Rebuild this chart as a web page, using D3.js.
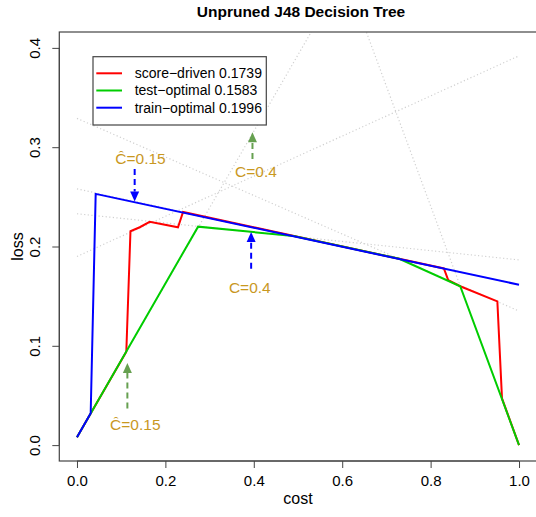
<!DOCTYPE html>
<html>
<head>
<meta charset="utf-8">
<script src="https://cdn.jsdelivr.net/npm/d3@7"></script>
<style>
  body { margin: 0; background: #fff; }
  svg { display: block; font-family: "Liberation Sans", Arial, sans-serif; }
</style>
</head>
<body>
<svg id="chart" width="536" height="517"></svg>
<script>
// ---- DATA ---- //
const xTicks = [0, 0.2, 0.4, 0.6, 0.8, 1.0];
const yTicks = [0, 0.1, 0.2, 0.3, 0.4];

const seriesNames = ["score-driven 0.1739", "test-optimal 0.1583", "train-optimal 0.1996"];
const seriesColors = ["#ff0000", "#00cd00", "#0000ff"];

const redX = [0, 0.1116, 0.121, 0.142, 0.1645, 0.2285, 0.240, 0.830, 0.840, 0.867, 0.951, 0.9615, 1.0];
const redY = [0.008, 0.094, 0.2154, 0.2194, 0.2248, 0.2194, 0.2348, 0.1779, 0.166, 0.160, 0.1447, 0.047, 0.0];
const greenX = [0, 0.274, 0.49, 0.729, 0.867, 1.0];
const greenY = [0.008, 0.220, 0.2105, 0.1877, 0.160, 0.0];
const blueX = [0, 0.031, 0.0423, 1.0];
const blueY = [0.008, 0.032, 0.253, 0.1615];

// cost lines: loss at cost 0 and at cost 1
const costLineStart = [0.008, 0.258, 0.329, 1.2045, 0.19, 0.233];
const costLineEnd = [0.778, 0.1615, 0.135, 0.0, 0.392, 0.1865];

// annotations
const annText = ["\u0108=0.15", "C=0.4", "C=0.4", "\u0108=0.15"];
const annX = [0.1437, 0.405, 0.391, 0.132];
const annY = [0.289, 0.2754, 0.159, 0.0211];
const arrowX = [0.1305, 0.397, 0.394, 0.114];
const arrowFrom = [0.278, 0.288, 0.1776, 0.0369];
const arrowTo = [0.2454, 0.315, 0.2147, 0.0827];
const arrowColors = ["#0000ff", "#66a050", "#0000ff", "#66a050"];

// ---- LAYOUT ---- //
const svg = d3.select("#chart");
const box = { L: 59.3, R: 536.7, T: 32, B: 461 };

const xScale = d3.scaleLinear().domain([-0.04, 1.04]).range([box.L, box.R]);
const yScale = d3.scaleLinear().domain([-0.016, 0.416]).range([box.B, box.T]);

svg.append("defs").append("clipPath")
    .attr("id", "plot-clip")
    .append("rect")
        .attr("x", box.L)
        .attr("y", box.T)
        .attr("width", box.R - box.L)
        .attr("height", box.B - box.T);

// ---- COST LINES ---- //
const plot = svg.append("g").attr("clip-path", "url(#plot-clip)");

plot.selectAll(".cost-line")
    .data(costLineStart.map((s, i) => [s, costLineEnd[i]]))
    .enter()
    .append("line")
        .attr("class", "cost-line")
        .attr("x1", xScale(0))
        .attr("x2", xScale(1))
        .attr("y1", d => yScale(d[0]))
        .attr("y2", d => yScale(d[1]))
        .attr("stroke", "#d0d0d0")
        .attr("stroke-width", 1.2)
        .attr("stroke-dasharray", "1.2,2.4");

// ---- CURVES ---- //
const line = d3.line()
    .x(d => xScale(d[0]))
    .y(d => yScale(d[1]));

const curves = [
    redX.map((x, i) => [x, redY[i]]),
    greenX.map((x, i) => [x, greenY[i]]),
    blueX.map((x, i) => [x, blueY[i]]),
];

curves.forEach((pts, i) => {
    plot.append("path")
        .attr("d", line(pts))
        .attr("fill", "none")
        .attr("stroke", seriesColors[i])
        .attr("stroke-width", 2)
        .attr("stroke-linejoin", "miter");
});

// ---- ARROWS ---- //
arrowX.forEach((ax, i) => {
    const x = xScale(ax);
    const y0 = yScale(arrowFrom[i]);
    const y1 = yScale(arrowTo[i]);
    const dir = y1 > y0 ? 1 : -1;
    const headLen = 10, headW = 4.5;
    plot.append("line")
        .attr("x1", x).attr("x2", x)
        .attr("y1", y0).attr("y2", y1 - dir * headLen)
        .attr("stroke", arrowColors[i])
        .attr("stroke-width", 2)
        .attr("stroke-dasharray", "6,4");
    plot.append("path")
        .attr("d", `M${x},${y1} L${x - headW},${y1 - dir * headLen} L${x + headW},${y1 - dir * headLen} Z`)
        .attr("fill", arrowColors[i]);
});

annText.forEach((t, i) => {
    svg.append("text")
        .attr("x", xScale(annX[i]))
        .attr("y", yScale(annY[i]))
        .attr("dy", "0.36em")
        .attr("text-anchor", "middle")
        .attr("font-size", 15.5)
        .attr("fill", "#c9981f")
        .text(t);
});

// ---- AXES ---- //
const xAxis = d3.axisBottom(xScale)
    .tickValues(xTicks)
    .tickFormat(d3.format(".1f"))
    .tickSize(7)
    .tickPadding(7);
const yAxis = d3.axisLeft(yScale)
    .tickValues(yTicks)
    .tickFormat(d3.format(".1f"))
    .tickSize(7)
    .tickPadding(5);

const gx = svg.append("g")
    .attr("transform", `translate(0, ${box.B})`)
    .call(xAxis);
gx.select(".domain").attr("d", `M${xScale(0)},0H${xScale(1)}`);

const gy = svg.append("g")
    .attr("transform", `translate(${box.L}, 0)`)
    .call(yAxis);
gy.select(".domain").attr("d", `M0,${yScale(0)}V${yScale(0.4)}`);
gy.selectAll(".tick text")
    .attr("transform", "rotate(-90)")
    .attr("text-anchor", "middle")
    .attr("x", 0)
    .attr("y", -19)
    .attr("dy", 0);

[gx, gy].forEach(g => {
    g.selectAll(".tick text").attr("font-size", 15).attr("fill", "#000")
        .attr("font-family", "Liberation Sans, Arial, sans-serif");
    g.selectAll(".tick line").attr("stroke", "#444");
    g.select(".domain").attr("stroke", "#444");
});

svg.append("rect")
    .attr("x", box.L)
    .attr("y", box.T)
    .attr("width", box.R - box.L)
    .attr("height", box.B - box.T)
    .attr("fill", "none")
    .attr("stroke", "#444")
    .attr("stroke-width", 1.2);

// ---- TITLES ---- //
svg.append("text")
    .attr("x", 301)
    .attr("y", 17)
    .attr("text-anchor", "middle")
    .attr("font-size", 15.5)
    .attr("font-weight", "bold")
    .text("Unpruned J48 Decision Tree");

svg.append("text")
    .attr("x", 298)
    .attr("y", 504)
    .attr("text-anchor", "middle")
    .attr("font-size", 16)
    .text("cost");

svg.append("text")
    .attr("transform", `translate(23, ${(box.T + box.B) / 2}) rotate(-90)`)
    .attr("text-anchor", "middle")
    .attr("font-size", 16)
    .text("loss");

// ---- LEGEND ---- //
const legend = svg.append("g");
legend.append("rect")
    .attr("x", 93)
    .attr("y", 56.7)
    .attr("width", 173.3)
    .attr("height", 68.3)
    .attr("fill", "#fff")
    .attr("stroke", "#444")
    .attr("stroke-width", 1.2);

seriesNames.forEach((name, i) => {
    const y = 73.3 + i * 17.2;
    legend.append("line")
        .attr("x1", 96.3).attr("x2", 122)
        .attr("y1", y).attr("y2", y)
        .attr("stroke", seriesColors[i])
        .attr("stroke-width", 2);
    legend.append("text")
        .attr("x", 134.7)
        .attr("y", y)
        .attr("dy", "0.35em")
        .attr("font-size", 14)
        .text(name.replace("-", "\u2212"));
});
</script>
</body>
</html>
